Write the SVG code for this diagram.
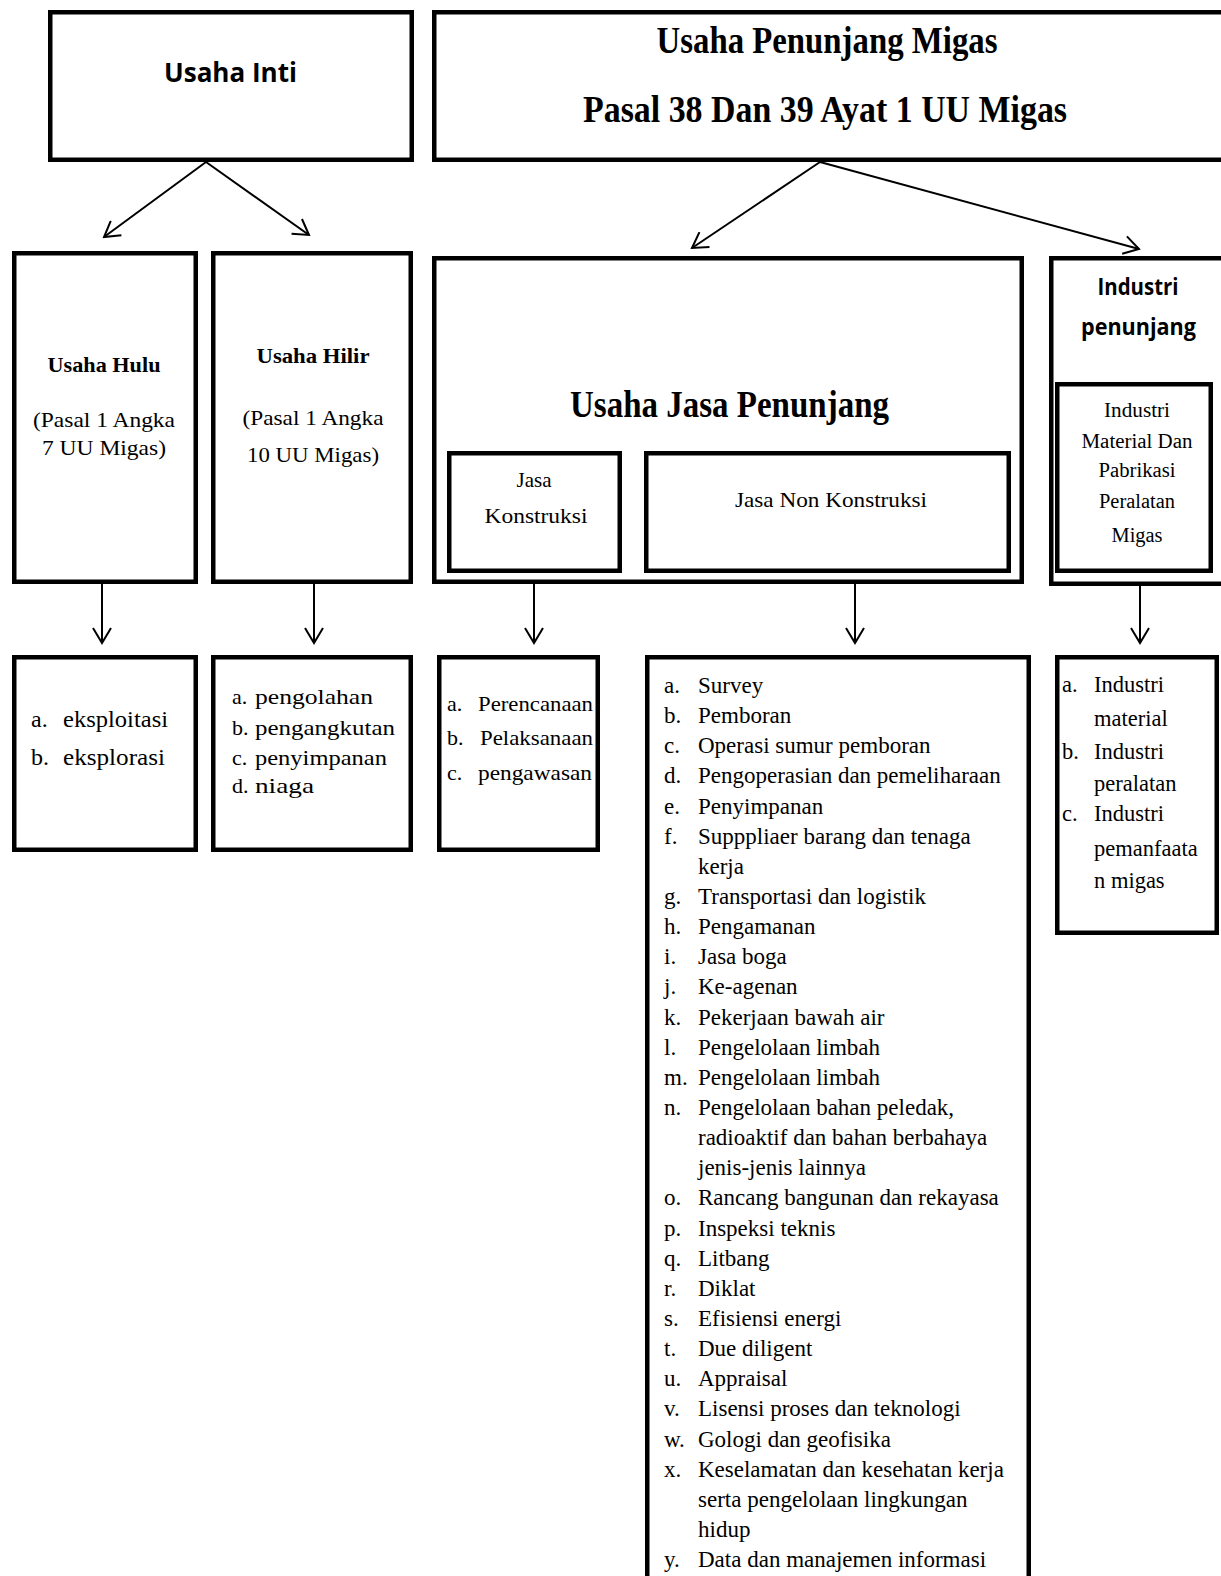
<svg xmlns="http://www.w3.org/2000/svg" width="1221" height="1576" viewBox="0 0 1221 1576">
<style>
.box{fill:#fff;stroke:#000;stroke-width:4.5}
.t{font-family:"Liberation Serif","Times New Roman",serif;fill:#000}
.b{font-weight:bold}
.sans{font-family:"Open Sans","Noto Sans","Liberation Sans",sans-serif;font-weight:bold;fill:#000}
.c{text-anchor:middle}
.conn{stroke:#000;stroke-width:2;fill:none;marker-end:url(#arr)}
</style>
<defs>
<marker id="arr" viewBox="0 0 18 20" refX="16" refY="10" markerWidth="18" markerHeight="20" markerUnits="userSpaceOnUse" orient="auto">
<path d="M1,1 L16,10 L1,19" fill="none" stroke="#000" stroke-width="2"/>
</marker>
</defs>
<rect width="1221" height="1576" fill="#fff"/>

<g id="connectors">
<line class="conn" x1="206" y1="162" x2="104" y2="237"/>
<line class="conn" x1="206" y1="162" x2="309" y2="235"/>
<line class="conn" x1="820" y1="162" x2="692" y2="248"/>
<line class="conn" x1="820" y1="162" x2="1139" y2="249"/>
<line class="conn" x1="102" y1="584" x2="102" y2="643"/>
<line class="conn" x1="314" y1="584" x2="314" y2="643"/>
<line class="conn" x1="534" y1="584" x2="534" y2="643"/>
<line class="conn" x1="855" y1="584" x2="855" y2="643"/>
<line class="conn" x1="1140" y1="586" x2="1140" y2="643"/>
</g>

<g id="usaha-inti">
<rect class="box" x="50.25" y="12.25" width="361.5" height="147.5"/>
<text class="sans c" x="230.5" y="82" font-size="26" textLength="133" lengthAdjust="spacingAndGlyphs">Usaha Inti</text>
</g>

<g id="usaha-penunjang-migas">
<rect class="box" x="434.25" y="12.25" width="791.5" height="147.5"/>
<text class="t b c" x="827" y="53" font-size="37" textLength="341" lengthAdjust="spacingAndGlyphs">Usaha Penunjang Migas</text>
<text class="t b c" x="825" y="122" font-size="37" textLength="484" lengthAdjust="spacingAndGlyphs">Pasal 38 Dan 39 Ayat 1 UU Migas</text>
</g>

<g id="usaha-hulu">
<rect class="box" x="14.25" y="253.25" width="181.5" height="328.5"/>
<text class="t b c" x="104" y="372" font-size="21" textLength="113" lengthAdjust="spacingAndGlyphs">Usaha Hulu</text>
<text class="t c" x="104" y="427" font-size="21" textLength="142" lengthAdjust="spacingAndGlyphs">(Pasal 1 Angka</text>
<text class="t c" x="104" y="455" font-size="21" textLength="124" lengthAdjust="spacingAndGlyphs">7 UU Migas)</text>
</g>

<g id="usaha-hilir">
<rect class="box" x="213.25" y="253.25" width="197.5" height="328.5"/>
<text class="t b c" x="313" y="363" font-size="21" textLength="113" lengthAdjust="spacingAndGlyphs">Usaha Hilir</text>
<text class="t c" x="313" y="425" font-size="21" textLength="141" lengthAdjust="spacingAndGlyphs">(Pasal 1 Angka</text>
<text class="t c" x="313" y="462" font-size="21" textLength="132" lengthAdjust="spacingAndGlyphs">10 UU Migas)</text>
</g>

<g id="usaha-jasa-penunjang">
<rect class="box" x="434.25" y="258.25" width="587.5" height="323.5"/>
<text class="t b c" x="729.5" y="417" font-size="37" textLength="319" lengthAdjust="spacingAndGlyphs">Usaha Jasa Penunjang</text>
</g>

<g id="jasa-konstruksi">
<rect class="box" x="449.25" y="453.25" width="170.5" height="117.5"/>
<text class="t c" x="534" y="487" font-size="21">Jasa</text>
<text class="t c" x="536" y="523" font-size="21" textLength="103" lengthAdjust="spacingAndGlyphs">Konstruksi</text>
</g>

<g id="jasa-non-konstruksi">
<rect class="box" x="646.25" y="453.25" width="362.5" height="117.5"/>
<text class="t c" x="831" y="507" font-size="21" textLength="192" lengthAdjust="spacingAndGlyphs">Jasa Non Konstruksi</text>
</g>

<g id="industri-penunjang">
<rect class="box" x="1051.25" y="258.25" width="174.5" height="325.5"/>
<text class="sans c" x="1138" y="295" font-size="24" textLength="81" lengthAdjust="spacingAndGlyphs">Industri</text>
<text class="sans c" x="1138.5" y="335" font-size="24" textLength="115" lengthAdjust="spacingAndGlyphs">penunjang</text>
</g>

<g id="industri-material">
<rect class="box" x="1057.25" y="384.25" width="153.5" height="186.5"/>
<text class="t c" x="1137" y="417" font-size="20" textLength="66" lengthAdjust="spacingAndGlyphs">Industri</text>
<text class="t c" x="1137" y="448" font-size="20" textLength="111" lengthAdjust="spacingAndGlyphs">Material Dan</text>
<text class="t c" x="1137" y="477" font-size="20" textLength="77" lengthAdjust="spacingAndGlyphs">Pabrikasi</text>
<text class="t c" x="1137" y="508" font-size="20" textLength="76" lengthAdjust="spacingAndGlyphs">Peralatan</text>
<text class="t c" x="1137" y="542" font-size="20" textLength="51" lengthAdjust="spacingAndGlyphs">Migas</text>
</g>

<g id="list-hulu">
<rect class="box" x="14.25" y="657.25" width="181.5" height="192.5"/>
<text class="t" font-size="24" y="727"><tspan x="31">a.</tspan><tspan x="63" textLength="105" lengthAdjust="spacingAndGlyphs">eksploitasi</tspan></text>
<text class="t" font-size="24" y="765"><tspan x="31">b.</tspan><tspan x="63" textLength="102" lengthAdjust="spacingAndGlyphs">eksplorasi</tspan></text>
</g>

<g id="list-hilir">
<rect class="box" x="213.25" y="657.25" width="197.5" height="192.5"/>
<text class="t" font-size="22" y="704"><tspan x="232">a.</tspan><tspan x="255" textLength="118" lengthAdjust="spacingAndGlyphs">pengolahan</tspan></text>
<text class="t" font-size="22" y="735"><tspan x="232">b.</tspan><tspan x="255" textLength="140" lengthAdjust="spacingAndGlyphs">pengangkutan</tspan></text>
<text class="t" font-size="22" y="765"><tspan x="232">c.</tspan><tspan x="255" textLength="132" lengthAdjust="spacingAndGlyphs">penyimpanan</tspan></text>
<text class="t" font-size="22" y="793"><tspan x="232">d.</tspan><tspan x="255" textLength="59" lengthAdjust="spacingAndGlyphs">niaga</tspan></text>
</g>

<g id="list-konstruksi">
<rect class="box" x="439.25" y="657.25" width="158.5" height="192.5"/>
<text class="t" font-size="22" y="711"><tspan x="447">a.</tspan><tspan x="478" textLength="115" lengthAdjust="spacingAndGlyphs">Perencanaan</tspan></text>
<text class="t" font-size="22" y="745"><tspan x="447">b.</tspan><tspan x="480" textLength="113" lengthAdjust="spacingAndGlyphs">Pelaksanaan</tspan></text>
<text class="t" font-size="22" y="780"><tspan x="447">c.</tspan><tspan x="478" textLength="114" lengthAdjust="spacingAndGlyphs">pengawasan</tspan></text>
</g>

<g id="list-non-konstruksi">
<rect class="box" x="647.25" y="657.25" width="381.5" height="950"/>
<g class="t" font-size="23">
<text y="693"><tspan x="664">a.</tspan><tspan x="698">Survey</tspan></text>
<text y="723.1"><tspan x="664">b.</tspan><tspan x="698">Pemboran</tspan></text>
<text y="753.3"><tspan x="664">c.</tspan><tspan x="698">Operasi sumur pemboran</tspan></text>
<text y="783.4"><tspan x="664">d.</tspan><tspan x="698">Pengoperasian dan pemeliharaan</tspan></text>
<text y="813.6"><tspan x="664">e.</tspan><tspan x="698">Penyimpanan</tspan></text>
<text y="843.7"><tspan x="664">f.</tspan><tspan x="698">Supppliaer barang dan tenaga</tspan></text>
<text y="873.8" x="698">kerja</text>
<text y="904"><tspan x="664">g.</tspan><tspan x="698">Transportasi dan logistik</tspan></text>
<text y="934.1"><tspan x="664">h.</tspan><tspan x="698">Pengamanan</tspan></text>
<text y="964.3"><tspan x="664">i.</tspan><tspan x="698">Jasa boga</tspan></text>
<text y="994.4"><tspan x="664">j.</tspan><tspan x="698">Ke-agenan</tspan></text>
<text y="1024.5"><tspan x="664">k.</tspan><tspan x="698">Pekerjaan  bawah air</tspan></text>
<text y="1054.7"><tspan x="664">l.</tspan><tspan x="698">Pengelolaan limbah</tspan></text>
<text y="1084.8"><tspan x="664">m.</tspan><tspan x="698">Pengelolaan limbah</tspan></text>
<text y="1115"><tspan x="664">n.</tspan><tspan x="698">Pengelolaan bahan peledak,</tspan></text>
<text y="1145.1" x="698">radioaktif dan bahan berbahaya</text>
<text y="1175.2" x="698">jenis-jenis lainnya</text>
<text y="1205.4"><tspan x="664">o.</tspan><tspan x="698">Rancang bangunan dan rekayasa</tspan></text>
<text y="1235.5"><tspan x="664">p.</tspan><tspan x="698">Inspeksi teknis</tspan></text>
<text y="1265.7"><tspan x="664">q.</tspan><tspan x="698">Litbang</tspan></text>
<text y="1295.8"><tspan x="664">r.</tspan><tspan x="698">Diklat</tspan></text>
<text y="1325.9"><tspan x="664">s.</tspan><tspan x="698">Efisiensi energi</tspan></text>
<text y="1356.1"><tspan x="664">t.</tspan><tspan x="698">Due diligent</tspan></text>
<text y="1386.2"><tspan x="664">u.</tspan><tspan x="698">Appraisal</tspan></text>
<text y="1416.4"><tspan x="664">v.</tspan><tspan x="698">Lisensi proses dan teknologi</tspan></text>
<text y="1446.5"><tspan x="664">w.</tspan><tspan x="698">Gologi dan geofisika</tspan></text>
<text y="1476.6"><tspan x="664">x.</tspan><tspan x="698">Keselamatan dan kesehatan kerja</tspan></text>
<text y="1506.8" x="698">serta pengelolaan lingkungan</text>
<text y="1536.9" x="698">hidup</text>
<text y="1567.1"><tspan x="664">y.</tspan><tspan x="698">Data dan manajemen  informasi</tspan></text>
</g>
</g>

<g id="list-industri">
<rect class="box" x="1057.25" y="657.25" width="159.5" height="275.5"/>
<g class="t" font-size="22.5">
<text y="692"><tspan x="1062">a.</tspan><tspan x="1094">Industri</tspan></text>
<text y="726" x="1094">material</text>
<text y="759"><tspan x="1062">b.</tspan><tspan x="1094">Industri</tspan></text>
<text y="791" x="1094">peralatan</text>
<text y="821"><tspan x="1062">c.</tspan><tspan x="1094">Industri</tspan></text>
<text y="856" x="1094">pemanfaata</text>
<text y="888" x="1094">n migas</text>
</g>
</g>
</svg>
